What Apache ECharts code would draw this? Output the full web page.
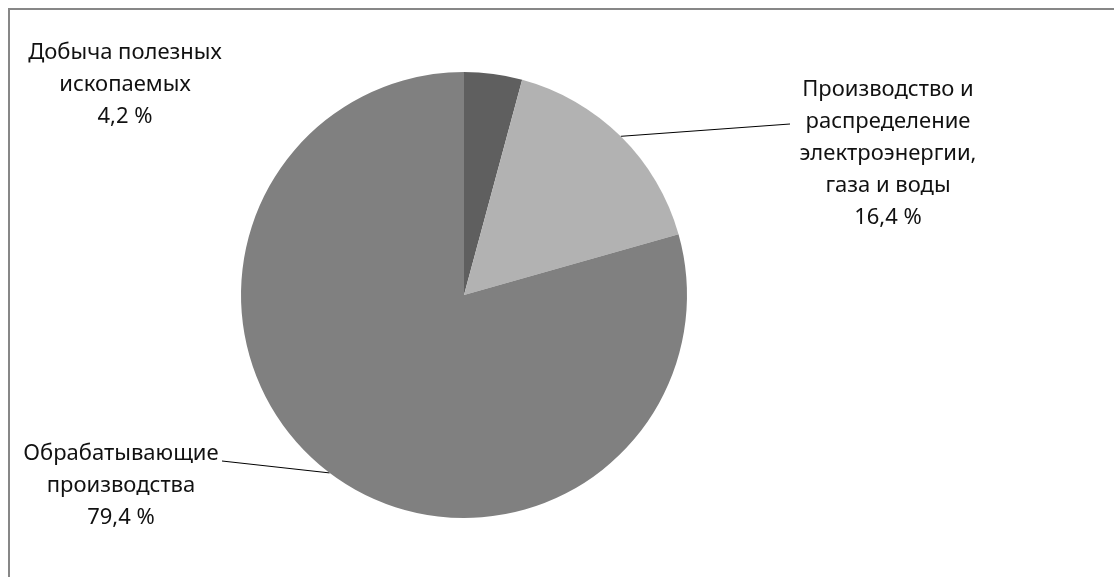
<!DOCTYPE html>
<html>
<head>
<meta charset="utf-8">
<script src="https://cdn.jsdelivr.net/npm/echarts@6/dist/echarts.min.js"></script>
<style>
html,body{margin:0;padding:0;background:#fff;width:1114px;height:577px;overflow:hidden;}
#chart{position:absolute;left:0;top:0;width:1114px;height:577px;}
#frame{position:absolute;left:8px;top:8px;width:1200px;height:700px;border-top:2px solid #878787;border-left:2px solid #878787;pointer-events:none;}
</style>
</head>
<body>
<div id="chart"></div>
<div id="frame"></div>
<script>
const categories = [
  'Добыча полезных\nископаемых',
  'Производство и\nраспределение\nэлектроэнергии,\nгаза и воды',
  'Обрабатывающие\nпроизводства'
];
const values = [4.2, 16.4, 79.4];
const colors = ['#5f5f5f', '#b2b2b2', '#808080'];

// label anchor positions (center of text block) and leader-line ends
const labelPos = [[125, 85], [888, 154], [121, 486]];
const lineEnds = [null, [790, 124], [222, 461]];

const chart = echarts.init(document.getElementById('chart'), null, {renderer: 'canvas'});
chart.setOption({
  animation: false,
  backgroundColor: '#ffffff',
  series: [{
    type: 'pie',
    center: [464, 295],
    radius: [0, 223],
    startAngle: 90,
    clockwise: true,
    silent: true,
    data: categories.map((c, i) => ({name: c, value: values[i], itemStyle: {color: colors[i]}})),
    itemStyle: {borderWidth: 0},
    emphasis: {disabled: true},
    label: {
      show: true,
      position: 'outside',
      formatter: p => p.name + '\n' + p.value.toFixed(1).replace('.', ',') + ' %',
      fontFamily: 'Noto Sans',
      fontSize: 22,
      lineHeight: 32,
      color: '#111',
      align: 'center'
    },
    labelLine: {show: true, lineStyle: {color: '#000', width: 1}},
    labelLayout: function (params) {
      const i = params.dataIndex;
      const r = {x: labelPos[i][0], y: labelPos[i][1], align: 'center', verticalAlign: 'middle'};
      if (lineEnds[i] && params.labelLinePoints) {
        r.labelLinePoints = [params.labelLinePoints[0], lineEnds[i]];
      } else {
        r.labelLinePoints = [[0,0],[0,0]];
      }
      return r;
    }
  }]
});
</script>
</body>
</html>
